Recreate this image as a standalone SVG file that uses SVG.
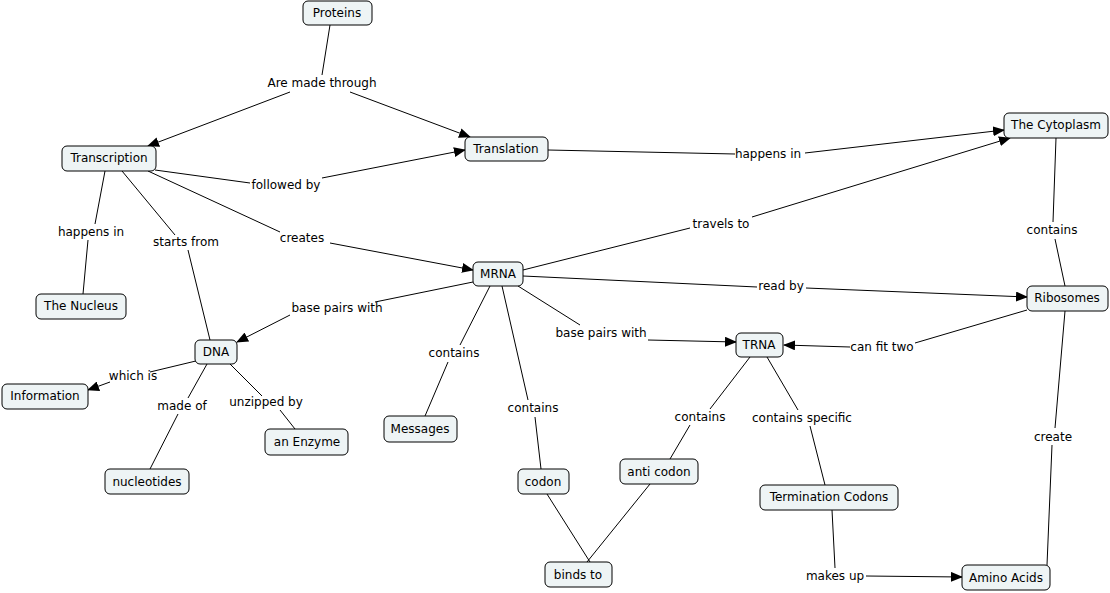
<svg xmlns="http://www.w3.org/2000/svg" width="1110" height="593" viewBox="0 0 1110 593">
<style>
.n rect{fill:#eef4f5;stroke:#000;stroke-width:1}
text{font-family:"DejaVu Sans",Verdana,sans-serif;font-size:12px;fill:#000;text-anchor:middle;dominant-baseline:central}
.c line{stroke:#000;stroke-width:1}
.a{marker-end:url(#ar)}
.l rect{fill:#fff}
</style>
<defs><marker id="ar" markerWidth="12" markerHeight="10" refX="11" refY="5" orient="auto" markerUnits="userSpaceOnUse"><path d="M0,0 L12,5 L0,10 z" fill="#000"/></marker></defs>
<rect width="1110" height="593" fill="#fff"/>
<g class="c">
<line x1="330" y1="25" x2="322" y2="75"/>
<line class="a" x1="290" y1="92" x2="148" y2="146"/>
<line class="a" x1="350" y1="92" x2="470" y2="137"/>
<line x1="155" y1="170" x2="250" y2="183"/>
<line class="a" x1="322" y1="178" x2="465" y2="150"/>
<line x1="105" y1="171" x2="95" y2="224"/>
<line x1="88" y1="240" x2="83" y2="294"/>
<line x1="122" y1="171" x2="175" y2="235"/>
<line x1="188" y1="250" x2="210" y2="340"/>
<line x1="148" y1="171" x2="280" y2="232"/>
<line class="a" x1="330" y1="243" x2="473" y2="270"/>
<line x1="548" y1="150" x2="735" y2="154"/>
<line class="a" x1="805" y1="153" x2="1004" y2="130"/>
<line x1="523" y1="270" x2="690" y2="228"/>
<line class="a" x1="752" y1="217" x2="1010" y2="138"/>
<line x1="1056" y1="138" x2="1053" y2="222"/>
<line x1="1055" y1="239" x2="1065" y2="286"/>
<line x1="523" y1="276" x2="757" y2="287"/>
<line class="a" x1="806" y1="288" x2="1027" y2="297"/>
<line x1="473" y1="282" x2="375" y2="302"/>
<line class="a" x1="290" y1="315" x2="237" y2="342"/>
<line x1="518" y1="286" x2="580" y2="325"/>
<line class="a" x1="648" y1="340" x2="736" y2="342"/>
<line x1="1027" y1="310" x2="915" y2="343"/>
<line class="a" x1="850" y1="347" x2="784" y2="345"/>
<line x1="490" y1="286" x2="460" y2="345"/>
<line x1="448" y1="362" x2="425" y2="416"/>
<line x1="502" y1="286" x2="528" y2="400"/>
<line x1="535" y1="417" x2="541" y2="469"/>
<line x1="200" y1="360" x2="150" y2="372"/>
<line class="a" x1="110" y1="382" x2="88" y2="390"/>
<line x1="207" y1="364" x2="188" y2="398"/>
<line x1="178" y1="414" x2="150" y2="469"/>
<line x1="230" y1="364" x2="262" y2="396"/>
<line x1="280" y1="410" x2="295" y2="429"/>
<line x1="750" y1="357" x2="710" y2="409"/>
<line x1="690" y1="425" x2="670" y2="459"/>
<line x1="767" y1="357" x2="798" y2="410"/>
<line x1="810" y1="426" x2="825" y2="485"/>
<line x1="547" y1="494" x2="590" y2="562"/>
<line x1="650" y1="484" x2="587" y2="562"/>
<line x1="1065" y1="311" x2="1055" y2="428"/>
<line x1="1052" y1="445" x2="1047" y2="565"/>
<line x1="832" y1="510" x2="835" y2="568"/>
<line class="a" x1="866" y1="576" x2="962" y2="577"/>
</g>
<g id="labels">
<text x="322" y="83">Are made through</text>
<text x="286" y="185">followed by</text>
<text x="91" y="232">happens in</text>
<text x="186" y="242">starts from</text>
<text x="302" y="238">creates</text>
<text x="768" y="154">happens in</text>
<text x="721" y="224">travels to</text>
<text x="1052" y="230">contains</text>
<text x="781" y="286">read by</text>
<text x="337" y="308">base pairs with</text>
<text x="601" y="333">base pairs with</text>
<text x="882" y="347">can fit two</text>
<text x="454" y="353">contains</text>
<text x="133" y="376">which is</text>
<text x="182" y="406">made of</text>
<text x="266" y="402">unzipped by</text>
<text x="533" y="408">contains</text>
<text x="700" y="417">contains</text>
<text x="802" y="418">contains specific</text>
<text x="1053" y="437">create</text>
<text x="835" y="576">makes up</text>
</g>
<g id="proteins" class="n"><rect x="303" y="1" width="69" height="24" rx="5"/><text x="337" y="13">Proteins</text></g>
<g id="transcription" class="n"><rect x="62" y="146" width="94" height="25" rx="5"/><text x="109" y="158">Transcription</text></g>
<g id="translation" class="n"><rect x="465" y="137" width="83" height="24" rx="5"/><text x="506" y="149">Translation</text></g>
<g id="cytoplasm" class="n"><rect x="1004" y="113" width="104" height="25" rx="5"/><text x="1056" y="125">The Cytoplasm</text></g>
<g id="nucleus" class="n"><rect x="36" y="294" width="90" height="25" rx="5"/><text x="81" y="306">The Nucleus</text></g>
<g id="mrna" class="n"><rect x="473" y="262" width="50" height="24" rx="5"/><text x="498" y="274">MRNA</text></g>
<g id="ribosomes" class="n"><rect x="1027" y="286" width="81" height="25" rx="5"/><text x="1067" y="298">Ribosomes</text></g>
<g id="dna" class="n"><rect x="195" y="340" width="42" height="24" rx="5"/><text x="216" y="352">DNA</text></g>
<g id="trna" class="n"><rect x="736" y="333" width="47" height="24" rx="5"/><text x="759" y="345">TRNA</text></g>
<g id="information" class="n"><rect x="2" y="384" width="86" height="25" rx="5"/><text x="45" y="396">Information</text></g>
<g id="enzyme" class="n"><rect x="265" y="429" width="83" height="26" rx="5"/><text x="307" y="442">an Enzyme</text></g>
<g id="messages" class="n"><rect x="384" y="416" width="73" height="26" rx="5"/><text x="420" y="429">Messages</text></g>
<g id="nucleotides" class="n"><rect x="105" y="469" width="84" height="25" rx="5"/><text x="147" y="482">nucleotides</text></g>
<g id="codon" class="n"><rect x="518" y="469" width="51" height="25" rx="5"/><text x="543" y="482">codon</text></g>
<g id="anticodon" class="n"><rect x="620" y="459" width="78" height="25" rx="5"/><text x="659" y="472">anti codon</text></g>
<g id="termination" class="n"><rect x="760" y="485" width="138" height="25" rx="5"/><text x="829" y="497">Termination Codons</text></g>
<g id="bindsto" class="n"><rect x="545" y="562" width="67" height="25" rx="5"/><text x="578" y="575">binds to</text></g>
<g id="amino" class="n"><rect x="962" y="565" width="88" height="25" rx="5"/><text x="1006" y="578">Amino Acids</text></g>
</svg>
